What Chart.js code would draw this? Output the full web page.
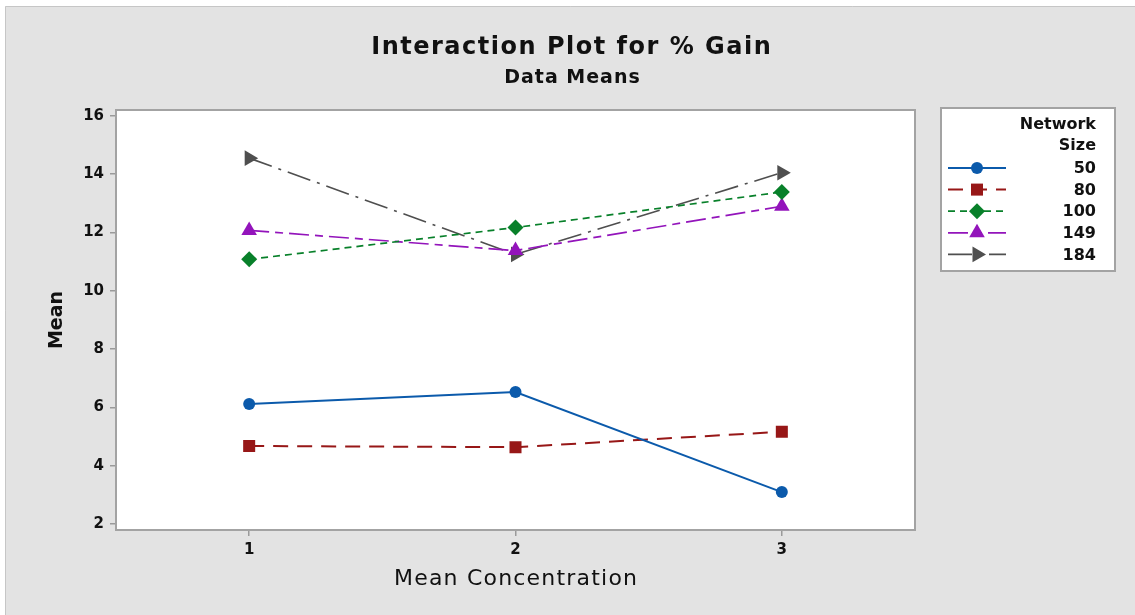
<!DOCTYPE html>
<html>
<head>
<meta charset="utf-8">
<title>Interaction Plot for % Gain</title>
<script src="https://cdn.jsdelivr.net/npm/chart.js@4.4.1/dist/chart.umd.min.js"></script>
<style>
  html, body { margin: 0; padding: 0; background: #ffffff; }
  #wrap { width: 1135px; height: 615px; position: relative; }
</style>
</head>
<body>
<div id="wrap"><canvas id="chart" width="1135" height="615"></canvas></div>
<script>
// Mean Concentration levels (x categories)
const concentrations = ['1', '2', '3'];
// Network Size groups
const networkSizes = ['50', '80', '100', '149', '184'];
// Data means of % Gain for each network size across concentrations
const size50  = [6.12, 6.53, 3.10];
const size80  = [4.68, 4.64, 5.17];
const size100 = [11.08, 12.17, 13.39];
const size149 = [12.07, 11.38, 12.90];
const size184 = [14.55, 11.25, 14.05];
// Y axis ticks
const yTicks = [2, 4, 6, 8, 10, 12, 14, 16];

const seriesValues = [size50, size80, size100, size149, size184];
const seriesColors = ['#0b5aab', '#971717', '#08802a', '#9314bb', '#4f4f4f'];
const seriesDash = [[], [15, 9], [7, 5], [20, 6, 8, 6], [24, 7, 3, 7]];
const seriesMarkers = ['circle', 'rect', 'rectRot', 'triangle', 'triangle'];
const seriesRotation = [0, 0, 0, 0, 90];
const seriesRadius = [6, 8.5, 8, 9, 9];
const seriesWidth = [2, 2, 1.7, 1.7, 1.6];

const FONT = '"DejaVu Sans", "Open Sans", sans-serif';

const datasets = networkSizes.map((name, i) => ({
  label: name,
  data: seriesValues[i],
  borderColor: seriesColors[i],
  backgroundColor: seriesColors[i],
  borderWidth: seriesWidth[i],
  borderDash: seriesDash[i],
  pointStyle: seriesMarkers[i],
  pointRotation: seriesRotation[i],
  pointRadius: seriesRadius[i],
  pointBorderWidth: 0,
  pointBackgroundColor: seriesColors[i],
  tension: 0,
  fill: false
}));

function spacedText(ctx, text, x, y, spacing) {
  ctx.letterSpacing = spacing + 'px';
  ctx.fillText(text, x + (ctx.textAlign === 'center' ? spacing / 2 : 0), y);
  ctx.letterSpacing = '0px';
}

// Frame, titles, axis captions and the keyed legend box
const decorations = {
  id: 'decorations',
  beforeDraw(chart) {
    const ctx = chart.ctx;
    const a = chart.chartArea;
    ctx.save();
    ctx.fillStyle = '#ffffff';
    ctx.fillRect(0, 0, chart.width, chart.height);
    ctx.fillStyle = '#e3e3e3';
    ctx.fillRect(5, 6, chart.width - 5, chart.height - 6);
    ctx.strokeStyle = '#c6c6c6';
    ctx.lineWidth = 1;
    ctx.beginPath();
    ctx.moveTo(5.5, chart.height);
    ctx.lineTo(5.5, 6.5);
    ctx.lineTo(chart.width, 6.5);
    ctx.stroke();
    // plotting region
    ctx.fillStyle = '#ffffff';
    ctx.fillRect(a.left, a.top, a.right - a.left, a.bottom - a.top);
    ctx.restore();
  },
  afterDatasetsDraw(chart) {
    const ctx = chart.ctx;
    const a = chart.chartArea;
    ctx.save();
    ctx.strokeStyle = '#a3a3a3';
    ctx.lineWidth = 2;
    ctx.strokeRect(a.left, a.top, a.right - a.left, a.bottom - a.top);
    ctx.restore();
  },
  afterDraw(chart) {
    const ctx = chart.ctx;
    const a = chart.chartArea;
    ctx.save();
    ctx.fillStyle = '#111111';
    ctx.textAlign = 'center';
    ctx.textBaseline = 'middle';
    ctx.font = 'bold 24px ' + FONT;
    spacedText(ctx, 'Interaction Plot for % Gain', 571, 48, 1.5);
    ctx.font = 'bold 19px ' + FONT;
    spacedText(ctx, 'Data Means', 572, 78, 1);
    ctx.font = '22px ' + FONT;
    spacedText(ctx, 'Mean Concentration', (a.left + a.right) / 2, 579, 1.2);
    ctx.save();
    ctx.translate(57, (a.top + a.bottom) / 2);
    ctx.rotate(-Math.PI / 2);
    ctx.font = 'bold 19px ' + FONT;
    ctx.fillText('Mean', 0, 0);
    ctx.restore();

    // legend box
    const bx = 941, by = 108, bw = 174, bh = 163;
    ctx.fillStyle = '#ffffff';
    ctx.fillRect(bx, by, bw, bh);
    ctx.strokeStyle = '#a3a3a3';
    ctx.lineWidth = 2;
    ctx.strokeRect(bx, by, bw, bh);
    ctx.fillStyle = '#111111';
    ctx.textAlign = 'right';
    ctx.font = 'bold 16px ' + FONT;
    ctx.fillText('Network', 1096, 125);
    ctx.fillText('Size', 1096, 146);
    chart.data.datasets.forEach((ds, i) => {
      const y = 168 + i * 21.6;
      ctx.save();
      ctx.strokeStyle = ds.borderColor;
      ctx.lineWidth = ds.borderWidth;
      ctx.setLineDash(ds.borderDash);
      ctx.beginPath();
      ctx.moveTo(948, y);
      ctx.lineTo(1006, y);
      ctx.stroke();
      ctx.setLineDash([]);
      ctx.fillStyle = ds.backgroundColor;
      Chart.helpers.drawPoint(ctx, {
        pointStyle: ds.pointStyle,
        rotation: ds.pointRotation,
        radius: ds.pointRadius,
        borderWidth: 0
      }, 977, y);
      ctx.restore();
      ctx.fillStyle = '#111111';
      ctx.fillText(ds.label, 1096, y + 1);
    });
    ctx.restore();
  }
};

const tickFont = { family: FONT, size: 15, weight: 'bold' };

new Chart(document.getElementById('chart').getContext('2d'), {
  type: 'line',
  data: { labels: concentrations, datasets },
  options: {
    responsive: false,
    animation: false,
    devicePixelRatio: 1,
    layout: { padding: { top: 110, right: 220, left: 0, bottom: 0 } },
    plugins: {
      legend: { display: false },
      tooltip: { enabled: false },
      title: { display: false }
    },
    scales: {
      x: {
        type: 'category',
        offset: true,
        grid: { drawOnChartArea: false, offset: false, tickLength: 6, color: '#9a9a9a', lineWidth: 1.5 },
        border: { display: false },
        ticks: { font: tickFont, color: '#111111', padding: 5 },
        afterFit(scale) { scale.height = 85; }
      },
      y: {
        type: 'linear',
        min: 1.8,
        max: 16.2,
        afterBuildTicks(scale) { scale.ticks = yTicks.map(v => ({ value: v })); },
        grid: { drawOnChartArea: false, tickLength: 6, color: '#9a9a9a', lineWidth: 1.5 },
        border: { display: false },
        ticks: { font: tickFont, color: '#111111', padding: 6 },
        afterFit(scale) { scale.width = 116; }
      }
    }
  },
  plugins: [decorations]
});
</script>
</body>
</html>
